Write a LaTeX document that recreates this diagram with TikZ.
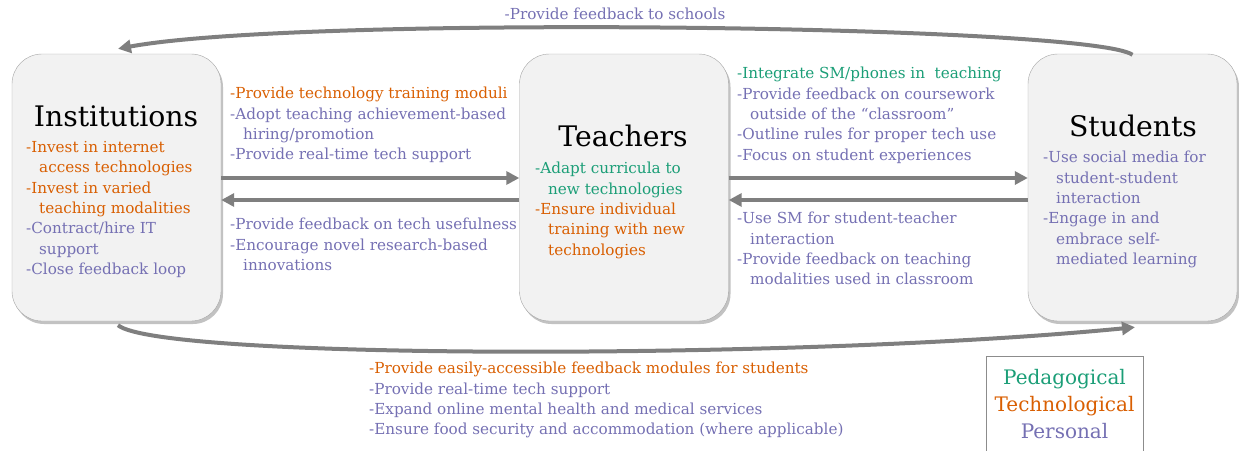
\documentclass[tikz,border=0pt]{standalone}
\usepackage{fontspec}
\setmainfont{DejaVu Serif}
\usetikzlibrary{arrows.meta,shadows}
\definecolor{ped}{HTML}{1B9E77}
\definecolor{tec}{HTML}{D95F02}
\definecolor{per}{HTML}{7570B3}
\definecolor{arrgray}{HTML}{7F7F7F}
\newcommand{\ind}{\hspace*{13pt}}
\tikzset{
  actor/.style={draw=black!35, fill=black!5, rounded corners=30pt, minimum width=209pt, minimum height=267pt,
    drop shadow={shadow xshift=2pt, shadow yshift=-3pt, opacity=0.4, fill=black!60}},
  title/.style={font=\fontsize{28.3}{34}\selectfont, text=black, inner sep=0pt},
  items/.style={font=\fontsize{15.2}{20.4}\selectfont, align=left, anchor=north west, inner sep=0pt},
  arr/.style={draw=arrgray, line width=4pt, -{Triangle[length=13pt,width=13pt]}},
  legend/.style={draw=black!45, minimum width=157pt, minimum height=96pt, inner sep=0pt, align=center, font=\fontsize{20}{27}\selectfont}
}
\begin{document}
\begin{tikzpicture}[x=1pt,y=-1pt]
\useasboundingbox (0,0) rectangle (1239,450);
\node[actor] (inst) at (116.5,187.5) {};
\node[actor] (teach) at (624,187.5) {};
\node[actor] (stud) at (1132.5,187.5) {};

\node[title] (tinst) at (116,116) {Institutions};
\node[title] (tteach) at (623,136) {Teachers};
\node[title] (tstud) at (1133,126) {Students};

\node[items] (iinst) at (26,141) {\color{tec}-Invest in internet\\\color{tec}\ind access technologies\\\color{tec}-Invest in varied\\\color{tec}\ind teaching modalities\\\color{per}-Contract/hire IT\\\color{per}\ind support\\\color{per}-Close feedback loop};
\node[items] (iteach) at (535,162) {\color{ped}-Adapt curricula to\\\color{ped}\ind new technologies\\\color{tec}-Ensure individual\\\color{tec}\ind training with new\\\color{tec}\ind technologies};
\node[items] (istud) at (1043,151) {\color{per}-Use social media for\\\color{per}\ind student-student\\\color{per}\ind interaction\\\color{per}-Engage in and\\\color{per}\ind embrace self-\\\color{per}\ind mediated learning};

\node[items] (itup) at (230,87) {\color{tec}-Provide technology training moduli\\\color{per}-Adopt teaching achievement-based\\\color{per}\ind hiring/promotion\\\color{per}-Provide real-time tech support};
\node[items] (itdown) at (230,218) {\color{per}-Provide feedback on tech usefulness\\\color{per}-Encourage novel research-based\\\color{per}\ind innovations};
\node[items] (tsup) at (737,67) {\color{ped}-Integrate SM/phones in\ \ teaching\\\color{per}-Provide feedback on coursework\\\color{per}\ind outside of the “classroom”\\\color{per}-Outline rules for proper tech use\\\color{per}-Focus on student experiences};
\node[items] (tsdown) at (737,212) {\color{per}-Use SM for student-teacher\\\color{per}\ind interaction\\\color{per}-Provide feedback on teaching\\\color{per}\ind modalities used in classroom};
\node[items] (bottom) at (369,362) {\color{tec}-Provide easily-accessible feedback modules for students\\\color{per}-Provide real-time tech support\\\color{per}-Expand online mental health and medical services\\\color{per}-Ensure food security and accommodation (where applicable)};
\node[items, anchor=center, text=per] (top) at (615,14) {-Provide feedback to schools};

\draw[arr] ([yshift=9.5pt]inst.east) -- ([yshift=9.5pt]teach.west);
\draw[arr] ([yshift=-12.5pt]teach.west) -- ([yshift=-12.5pt]inst.east);
\draw[arr] ([yshift=9.5pt]teach.east) -- ([yshift=9.5pt]stud.west);
\draw[arr] ([yshift=-12.5pt]stud.west) -- ([yshift=-12.5pt]teach.east);

\coordinate (stop) at ([yshift=-1pt]stud.north);
\coordinate (itop) at ([xshift=1.5pt,yshift=5pt]inst.north);
\draw[arr] (stop) .. controls (1090,25) and (300,15) .. (itop);
\coordinate (ibot) at ([xshift=1.5pt,yshift=-4pt]inst.south);
\coordinate (sbot) at ([xshift=2.5pt,yshift=-6pt]stud.south);
\draw[arr] (ibot) .. controls (160,360) and (800,360) .. (sbot);

\node[legend] (leg) at (1064.5,404) {\color{ped}Pedagogical\\\color{tec}Technological\\\color{per}Personal};
\end{tikzpicture}
\end{document}
